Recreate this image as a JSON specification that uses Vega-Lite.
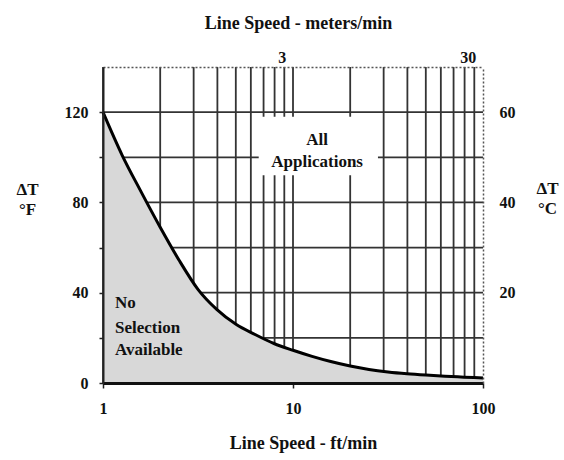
{
  "$schema": "https://vega.github.io/schema/vega-lite/v6.json",
  "width": 380,
  "height": 316,
  "autosize": "none",
  "padding": {"left": 103, "top": 67, "right": 81, "bottom": 77},
  "background": "white",
  "config": {"view": {"stroke": null}, "font": "Liberation Serif"},
  "datasets": {
    "curve": [
      {"speed": 1, "dt": 120}, {"speed": 1.26, "dt": 101}, {"speed": 1.58, "dt": 85},
      {"speed": 2, "dt": 69}, {"speed": 2.51, "dt": 54.5}, {"speed": 3.16, "dt": 41.5},
      {"speed": 3.98, "dt": 32.5}, {"speed": 5.01, "dt": 26}, {"speed": 6.31, "dt": 21.5},
      {"speed": 7.94, "dt": 17.5}, {"speed": 10, "dt": 14.5}, {"speed": 12.6, "dt": 11.8},
      {"speed": 15.8, "dt": 9.5}, {"speed": 20, "dt": 7.5}, {"speed": 25.1, "dt": 6.0},
      {"speed": 31.6, "dt": 4.9}, {"speed": 39.8, "dt": 4.1}, {"speed": 50.1, "dt": 3.5},
      {"speed": 63.1, "dt": 3.0}, {"speed": 79.4, "dt": 2.6}, {"speed": 100, "dt": 2.2}
    ],
    "vgrid": [
      {"v": 1}, {"v": 2}, {"v": 3}, {"v": 4}, {"v": 5}, {"v": 6}, {"v": 7}, {"v": 8}, {"v": 9},
      {"v": 10}, {"v": 20}, {"v": 30}, {"v": 40}, {"v": 50}, {"v": 60}, {"v": 70}, {"v": 80}, {"v": 90}
    ],
    "hgrid": [{"v": 20}, {"v": 40}, {"v": 60}, {"v": 80}, {"v": 100}, {"v": 120}],
    "box": [{"x1": 6.6, "x2": 28, "y1": 92, "y2": 118}],
    "notes": [
      {"t": "All", "x": 13.4, "y": 107.5},
      {"t": "Applications", "x": 13.4, "y": 97.8}
    ],
    "notes2": [
      {"t": "No", "x": 1.156, "y": 35.4},
      {"t": "Selection", "x": 1.156, "y": 24.3},
      {"t": "Available", "x": 1.156, "y": 14.6}
    ],
    "metric": [{"m": 3}, {"m": 30}],
    "celsius": [{"c": 20}, {"c": 40}, {"c": 60}]
  },
  "layer": [
    {
      "data": {"name": "vgrid"},
      "mark": {"type": "rule", "color": "#333", "strokeWidth": 1.8},
      "encoding": {
        "x": {"field": "v", "type": "quantitative", "scale": {"type": "log", "domain": [1, 100], "nice": false}, "axis": null}
      }
    },
    {
      "data": {"name": "hgrid"},
      "mark": {"type": "rule", "color": "#333", "strokeWidth": 1.8},
      "encoding": {
        "y": {"field": "v", "type": "quantitative", "scale": {"domain": [0, 140], "nice": false}, "axis": null}
      }
    },
    {
      "data": {"name": "box"},
      "mark": {"type": "rect", "color": "white"},
      "encoding": {
        "x": {"field": "x1", "type": "quantitative", "scale": {"type": "log", "domain": [1, 100], "nice": false}, "axis": null},
        "x2": {"field": "x2"},
        "y": {"field": "y1", "type": "quantitative", "scale": {"domain": [0, 140], "nice": false}, "axis": null},
        "y2": {"field": "y2"}
      }
    },
    {
      "data": {"name": "curve"},
      "mark": {"type": "area", "color": "#d8d8d8", "interpolate": "monotone"},
      "encoding": {
        "x": {
          "field": "speed", "type": "quantitative",
          "scale": {"type": "log", "domain": [1, 100], "nice": false},
          "axis": {
            "orient": "bottom", "values": [1, 10, 100], "format": "d",
            "title": "Line Speed - ft/min", "titleFontSize": 18, "titleFontWeight": "bold", "titleColor": "#111",
            "titleX": 200, "titleY": 60, "titleBaseline": "middle", "titleAlign": "center",
            "labelFontSize": 16, "labelFontWeight": "bold", "labelColor": "#111", "labelPadding": 12, "labelFlush": false,
            "tickSize": 5, "tickColor": "#222", "tickWidth": 1.5,
            "domainColor": "#111", "domainWidth": 3, "grid": false, "zindex": 1
          }
        },
        "y": {
          "field": "dt", "type": "quantitative",
          "scale": {"domain": [0, 140], "nice": false},
          "axis": {
            "orient": "left", "values": [0, 20, 40, 60, 80, 100, 120],
            "labelExpr": "datum.value % 40 === 0 ? datum.label : ''",
            "title": ["ΔT", "°F"], "titleAngle": 0, "titleX": -76, "titleY": 122,
            "titleAlign": "center", "titleBaseline": "middle", "titleLineHeight": 20,
            "titleFontSize": 17, "titleFontWeight": "bold", "titleColor": "#111",
            "labelFontSize": 16, "labelFontWeight": "bold", "labelColor": "#111", "labelPadding": 11,
            "tickSize": 4, "tickColor": "#222", "tickWidth": 1.5,
            "domainColor": "#222", "domainWidth": 2, "grid": false, "zindex": 1
          }
        }
      }
    },
    {
      "data": {"name": "curve"},
      "mark": {"type": "line", "color": "#000", "strokeWidth": 3, "interpolate": "monotone"},
      "encoding": {
        "x": {"field": "speed", "type": "quantitative", "scale": {"type": "log", "domain": [1, 100], "nice": false}, "axis": null},
        "y": {"field": "dt", "type": "quantitative", "scale": {"domain": [0, 140], "nice": false}, "axis": null}
      }
    },
    {
      "data": {"name": "notes"},
      "mark": {"type": "text", "align": "center", "baseline": "middle", "font": "Liberation Serif", "fontSize": 17, "fontWeight": "bold", "color": "#111"},
      "encoding": {
        "x": {"field": "x", "type": "quantitative", "scale": {"type": "log", "domain": [1, 100], "nice": false}, "axis": null},
        "y": {"field": "y", "type": "quantitative", "scale": {"domain": [0, 140], "nice": false}, "axis": null},
        "text": {"field": "t"}
      }
    },
    {
      "data": {"name": "notes2"},
      "mark": {"type": "text", "align": "left", "baseline": "middle", "font": "Liberation Serif", "fontSize": 17, "fontWeight": "bold", "color": "#111"},
      "encoding": {
        "x": {"field": "x", "type": "quantitative", "scale": {"type": "log", "domain": [1, 100], "nice": false}, "axis": null},
        "y": {"field": "y", "type": "quantitative", "scale": {"domain": [0, 140], "nice": false}, "axis": null},
        "text": {"field": "t"}
      }
    },
    {
      "data": {"name": "metric"},
      "mark": {"type": "point", "opacity": 0},
      "encoding": {
        "x": {
          "field": "m", "type": "quantitative",
          "scale": {"type": "log", "domain": [0.3048, 30.48], "nice": false},
          "axis": {
            "orient": "top", "values": [3, 30], "format": "d",
            "title": "Line Speed - meters/min", "titleFontSize": 18, "titleFontWeight": "bold", "titleColor": "#111",
            "titleX": 195, "titleY": -44, "titleBaseline": "middle", "titleAlign": "center",
            "labelFontSize": 16, "labelFontWeight": "bold", "labelColor": "#111", "labelPadding": 2, "labelAlign": "right", "labelOffset": -6, "labelFlush": false,
            "ticks": false, "domainColor": "#555", "domainWidth": 1.5, "domainDash": [2, 2], "grid": false, "zindex": 1
          }
        }
      }
    },
    {
      "data": {"name": "celsius"},
      "mark": {"type": "point", "opacity": 0},
      "encoding": {
        "y": {
          "field": "c", "type": "quantitative",
          "scale": {"domain": [0, 70], "nice": false},
          "axis": {
            "orient": "right", "values": [20, 40, 60],
            "title": ["ΔT", "°C"], "titleAngle": 0, "titleX": 64, "titleY": 121,
            "titleAlign": "center", "titleBaseline": "middle", "titleLineHeight": 20,
            "titleFontSize": 17, "titleFontWeight": "bold", "titleColor": "#111",
            "labelFontSize": 16, "labelFontWeight": "bold", "labelColor": "#111", "labelPadding": 16,
            "ticks": false, "domainColor": "#555", "domainWidth": 1.5, "domainDash": [2, 2], "grid": false, "zindex": 1
          }
        }
      }
    }
  ],
  "resolve": {"scale": {"x": "independent", "y": "independent"}, "axis": {"x": "independent", "y": "independent"}}
}
